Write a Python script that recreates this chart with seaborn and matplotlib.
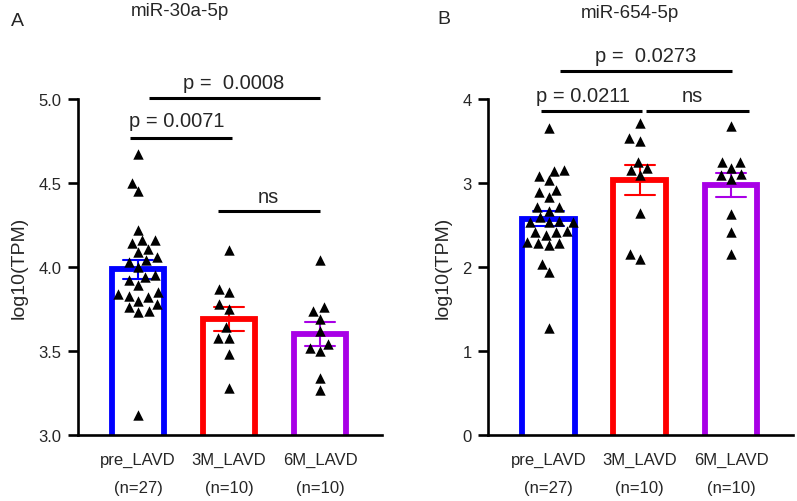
import pandas as pd
import numpy as np
import matplotlib
matplotlib.use("Agg")
import matplotlib.pyplot as plt
import seaborn as sns

# groups / labels
groups = ["pre_LAVD", "3M_LAVD", "6M_LAVD"]
tick_labels = ["pre_LAVD\n(n=27)", "3M_LAVD\n(n=10)", "6M_LAVD\n(n=10)"]
colors = ["#0000FF", "#FF0000", "#A800E6"]

# miR-30a-5p, log10(TPM)
mir30_pre = [4.67, 4.50, 4.45, 4.22, 4.16, 4.16, 4.14, 4.09, 4.11, 4.06, 4.04,
             4.03, 4.00, 3.94, 3.95, 3.92, 3.89, 3.85, 3.83, 3.84, 3.82, 3.80,
             3.78, 3.76, 3.74, 3.73, 3.12]
mir30_3m = [4.10, 3.85, 3.87, 3.78, 3.75, 3.64, 3.58, 3.58, 3.48, 3.28]
mir30_6m = [4.04, 3.74, 3.76, 3.69, 3.62, 3.52, 3.54, 3.50, 3.34, 3.27]

# miR-654-5p, log10(TPM)
mir654_pre = [3.65, 3.14, 3.15, 3.08, 3.03, 2.89, 2.92, 2.83, 2.72, 2.72, 2.67,
              2.60, 2.55, 2.53, 2.53, 2.53, 2.43, 2.38, 2.42, 2.42, 2.30, 2.26,
              2.29, 2.29, 2.04, 1.94, 1.27]
mir654_3m = [3.71, 3.54, 3.50, 3.25, 3.16, 3.18, 3.09, 2.64, 2.09, 2.15]
mir654_6m = [3.68, 3.25, 3.25, 3.18, 3.09, 3.11, 3.05, 2.63, 2.42, 2.15]


def make_df(pre, m3, m6):
    return pd.DataFrame({
        "group": [groups[0]] * len(pre) + [groups[1]] * len(m3) + [groups[2]] * len(m6),
        "val": pre + m3 + m6,
    })


df30 = make_df(mir30_pre, mir30_3m, mir30_6m)
df654 = make_df(mir654_pre, mir654_3m, mir654_6m)

sns.set_style("ticks")
plt.rcParams["font.family"] = ["Liberation Sans", "DejaVu Sans"]

fig = plt.figure(figsize=(7.97, 5.02), dpi=100)
axA = fig.add_axes([0.098, 0.1315, 0.381, 0.6693])
axB = fig.add_axes([0.6127, 0.1315, 0.3823, 0.6693])


def draw_panel(ax, df, ylim, yticks, yticklabels):
    sns.barplot(data=df, x="group", y="val", hue="group", order=groups,
                hue_order=groups, palette=colors, fill=False, errorbar="se",
                capsize=0.33, width=0.58, linewidth=4.2, legend=False,
                err_kws={"linewidth": 1.5}, ax=ax)
    # push the bar bottoms under the x axis so no bottom edge shows
    drop = 0.03 * (ylim[1] - ylim[0])
    for p in ax.patches:
        p.set_y(p.get_y() - drop)
        p.set_height(p.get_height() + drop)
    sns.swarmplot(data=df, x="group", y="val", order=groups, color="black",
                  marker="^", size=7.5, linewidth=0, ax=ax)
    ax.set_ylim(*ylim)
    ax.set_xlim(-0.66, 2.68)
    ax.set_yticks(yticks)
    ax.set_yticklabels(yticklabels, fontsize=12)
    ax.set_xticks(range(3))
    ax.set_xticklabels(tick_labels, fontsize=12, linespacing=2.1)
    ax.set_xlabel("")
    ax.set_ylabel("log10(TPM)", fontsize=14, labelpad=8)
    sns.despine(ax=ax)
    for s in ["left", "bottom"]:
        ax.spines[s].set_linewidth(1.9)
        ax.spines[s].set_color("black")
        ax.spines[s].set_zorder(5)
    ax.tick_params(axis="y", length=7, width=1.9, pad=5, color="black")
    ax.tick_params(axis="x", length=0, pad=12)


def bracket(ax, x1, x2, y, text, tx, ty):
    ax.plot([x1, x2], [y, y], color="black", lw=2.2, clip_on=False,
            solid_capstyle="butt")
    ax.text(tx, ty, text, ha="center", va="center", fontsize=14.5, clip_on=False)


draw_panel(axA, df30, (3.0, 5.0), [3.0, 3.5, 4.0, 4.5, 5.0],
           ["3.0", "3.5", "4.0", "4.5", "5.0"])
draw_panel(axB, df654, (0, 4), [0, 1, 2, 3, 4], ["0", "1", "2", "3", "4"])

bracket(axA, -0.09, 1.03, 4.768, "p = 0.0071", 0.43, 4.87)
bracket(axA, 0.12, 2.0, 5.006, "p =  0.0008", 1.05, 5.10)
bracket(axA, 0.88, 2.0, 4.333, "ns", 1.43, 4.42)

bracket(axB, -0.08, 1.02, 3.861, "p = 0.0211", 0.38, 4.04)
bracket(axB, 1.07, 2.2, 3.861, "ns", 1.58, 4.04)
bracket(axB, 0.13, 2.01, 4.337, "p =  0.0273", 1.06, 4.515)

fig.text(180 / 797, 1 - 12 / 502, "miR-30a-5p", ha="center", va="center", fontsize=13.5)
fig.text(630 / 797, 1 - 13 / 502, "miR-654-5p", ha="center", va="center", fontsize=13.5)
fig.text(17 / 797, 1 - 21 / 502, "A", ha="center", va="center", fontsize=14)
fig.text(444 / 797, 1 - 20 / 502, "B", ha="center", va="center", fontsize=14)

fig.savefig("out.png", dpi=100)
